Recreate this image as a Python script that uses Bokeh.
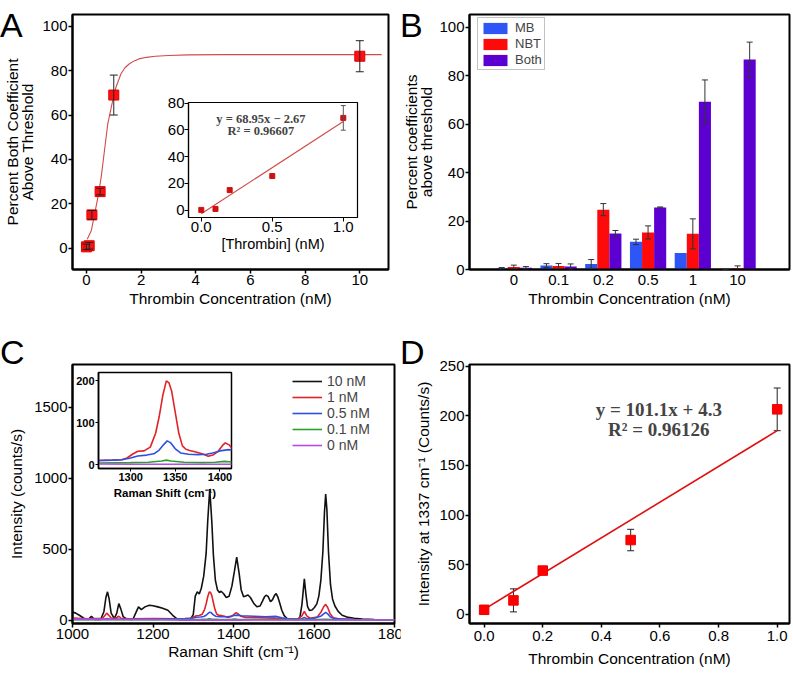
from bokeh.plotting import figure
from bokeh.models import (ColumnDataSource, Whisker, TeeHead, FixedTicker, Label,
                          Legend, LegendItem, GridBox, Range1d, PrintfTickFormatter, Div)
from bokeh.embed import file_html
from bokeh.resources import INLINE

FONT = "Liberation Sans"
SERIF = "Liberation Serif"

# ---------------- Panel A data ----------------
a_conc = [0, 0.1, 0.2, 0.5, 1, 10]
a_both = [0.6, 1.1, 15.0, 25.5, 69.0, 86.5]
a_err = [1.2, 1.5, 2.0, 1.5, 9.0, 7.0]
a_fit_x = [0.03, 0.18, 0.30, 0.42, 0.54, 0.66, 0.78, 0.96, 1.08, 1.26, 1.40, 1.56, 1.75, 1.92, 2.2, 2.52, 3.0, 3.72, 5.0, 7.0, 9.0, 10.8]
a_fit_y = [4.0, 8.0, 15.5, 23.0, 32.0, 44.0, 56.0, 66.5, 72.5, 78.5, 81.2, 83.0, 84.4, 85.3, 86.0, 86.5, 86.8, 87.1, 87.2, 87.2, 87.2, 87.2]
ai_conc = [0, 0.1, 0.2, 0.5, 1.0]
ai_pct = [0.2, 0.9, 15.0, 25.5, 69.0]
ai_err = [0.0, 0.0, 0.0, 0.0, 9.2]
ai_fit_x = [0.0, 1.0]
ai_fit_y = [-2.67, 66.28]

# ---------------- Panel B data ----------------
b_labels = ["0", "0.1", "0.2", "0.5", "1", "10"]
b_mb = [0.5, 1.6, 2.3, 11.4, 6.8, 0.1]
b_mb_err = [0.3, 0.8, 1.8, 1.1, 0.0, 0.1]
b_nbt = [1.0, 1.4, 24.7, 15.3, 14.7, 0.5]
b_nbt_err = [0.8, 1.1, 2.5, 2.7, 6.2, 1.0]
b_both = [0.7, 1.2, 14.9, 25.6, 69.2, 86.6]
b_both_err = [0.5, 1.1, 1.2, 0.2, 9.0, 7.2]

# ---------------- Panel C data (Raman shift, counts/s) ----------------
spec_10 = [(1000, 58), (1008, 50), (1017, 35), (1029, 12), (1039, 5), (1047, 28), (1055, 5), (1070, 5),
           (1078, 60), (1083, 160), (1087, 200), (1091, 150), (1096, 50), (1104, 12), (1110, 50), (1115, 117),
           (1120, 80), (1126, 25), (1135, 8), (1150, 5), (1157, 50), (1164, 94), (1171, 75), (1180, 94),
           (1191, 106), (1200, 102), (1212, 94), (1224, 84), (1237, 70), (1249, 35), (1262, 5), (1275, 0),
           (1292, 2), (1300, 40), (1305, 170), (1310, 200), (1315, 185), (1320, 225), (1326, 310), (1332, 470),
           (1336, 700), (1341, 923), (1346, 700), (1350, 460), (1355, 280), (1360, 215), (1365, 195), (1369, 204),
           (1375, 188), (1382, 160), (1389, 168), (1396, 240), (1402, 340), (1408, 444), (1414, 330), (1419, 215),
           (1425, 165), (1430, 170), (1436, 178), (1442, 160), (1450, 120), (1458, 95), (1466, 100), (1472, 135),
           (1477, 165), (1481, 176), (1486, 168), (1492, 130), (1497, 145), (1502, 175), (1506, 188), (1510, 165),
           (1515, 120), (1520, 70), (1526, 32), (1533, 12), (1545, 5), (1558, 5), (1565, 20), (1570, 110),
           (1573, 200), (1576, 292), (1580, 180), (1584, 95), (1589, 68), (1595, 72), (1601, 90), (1607, 115),
           (1612, 170), (1617, 280), (1622, 480), (1626, 760), (1629, 888), (1632, 780), (1636, 480), (1641, 250),
           (1646, 150), (1652, 100), (1660, 62), (1670, 35), (1685, 20), (1700, 14), (1720, 8), (1750, 5),
           (1780, 3), (1800, 2)]
spec_1 = [(1000, 15), (1040, 10), (1075, 14), (1081, 35), (1085, 50), (1090, 35), (1096, 15), (1108, 14),
          (1115, 28), (1121, 14), (1140, 10), (1200, 12), (1264, 10), (1280, 11), (1290, 12), (1296, 16),
          (1302, 25), (1308, 32), (1315, 33), (1322, 42), (1328, 75), (1332, 115), (1336, 165), (1340, 200),
          (1343, 195), (1346, 175), (1350, 125), (1354, 75), (1358, 45), (1362, 37), (1366, 34), (1372, 31),
          (1380, 26), (1387, 20), (1393, 24), (1398, 32), (1403, 46), (1406, 52), (1410, 48), (1418, 28),
          (1430, 20), (1460, 18), (1500, 15), (1530, 9), (1560, 8), (1570, 30), (1576, 62), (1582, 30),
          (1590, 14), (1608, 22), (1618, 60), (1624, 95), (1629, 112), (1634, 90), (1640, 45), (1648, 18),
          (1665, 8), (1700, 5), (1800, 3)]
spec_05 = [(1000, 6), (1080, 7), (1086, 12), (1092, 7), (1200, 6), (1264, 10), (1280, 11), (1290, 12),
           (1300, 16), (1308, 21), (1318, 23), (1326, 26), (1332, 35), (1337, 48), (1341, 57), (1345, 52),
           (1350, 38), (1356, 28), (1365, 25), (1375, 24), (1385, 25), (1392, 28), (1400, 33), (1410, 36),
           (1420, 32), (1450, 28), (1480, 25), (1505, 27), (1520, 18), (1540, 8), (1570, 10), (1576, 20),
           (1582, 10), (1600, 14), (1618, 30), (1624, 45), (1629, 55), (1634, 45), (1640, 25), (1650, 12),
           (1700, 5), (1800, 3)]
spec_01 = [(1000, 4), (1100, 4), (1200, 4), (1264, 4), (1300, 5), (1320, 6), (1335, 9), (1340, 11),
           (1345, 9), (1360, 6), (1380, 5), (1395, 6), (1405, 8), (1410, 7), (1450, 5), (1500, 4),
           (1600, 4), (1629, 7), (1650, 4), (1800, 3)]
spec_0 = [(1000, 8), (1100, 6), (1200, 5), (1264, 2), (1300, 1), (1350, 1), (1410, 1), (1500, 2),
          (1600, 2), (1700, 2), (1800, 2)]
c_series = [("10 nM", spec_10, "#111111"), ("1 nM", spec_1, "#e02424"), ("0.5 nM", spec_05, "#2f4fe0"),
            ("0.1 nM", spec_01, "#2ca02c"), ("0 nM", spec_0, "#b64be6")]
c_xticks = [1000, 1200, 1400, 1600, 1800]

# ---------------- Panel D data ----------------
d_conc = [0, 0.1, 0.2, 0.5, 1.0]
d_int = [4.5, 14.0, 44.0, 74.8, 206.5]
d_err = [3.0, 11.6, 2.5, 10.8, 21.5]
d_fit_x = [0.0, 1.0]
d_fit_y = [5.0, 185.0]


def make_fig(w, h, xr, yr, borders, outline=2.0):
    l, r, t, b = borders
    p = figure(width=w, height=h, x_range=Range1d(*xr), y_range=Range1d(*yr),
               output_backend="svg", toolbar_location=None, title=None,
               min_border_left=l, min_border_right=r, min_border_top=t, min_border_bottom=b)
    p.xgrid.visible = False
    p.ygrid.visible = False
    p.outline_line_color = "black"
    p.outline_line_width = outline
    p.background_fill_color = "white"
    p.border_fill_color = "white"
    return p


def style_axes(p, tick_px="15px", label_px="15.5px", tick_len=4, lw=2.0, bold=False):
    for ax in p.axis:
        ax.axis_line_color = "black"
        ax.axis_line_width = lw
        ax.major_tick_line_color = "black"
        ax.major_tick_line_width = 1.5 if lw > 1.5 else 1
        ax.major_tick_in = 0
        ax.major_tick_out = tick_len
        ax.minor_tick_line_color = None
        ax.major_label_text_font = FONT
        ax.major_label_text_font_size = tick_px
        ax.major_label_text_color = "black"
        ax.major_label_standoff = 1
        ax.major_label_text_font_style = "bold" if bold else "normal"
        ax.axis_label_text_font = FONT
        ax.axis_label_text_font_size = label_px
        ax.axis_label_text_font_style = "bold" if bold else "normal"
        ax.axis_label_text_color = "black"
        ax.axis_label_standoff = 2
        ax.axis_label_text_line_height = 0.9


def add_err(p, xs, ys, es, head=7, color="#222222", level="annotation"):
    keep = [i for i, e in enumerate(es) if e > 0]
    src = ColumnDataSource(dict(x=[xs[i] for i in keep],
                                lo=[ys[i] - es[i] for i in keep],
                                hi=[ys[i] + es[i] for i in keep]))
    w = Whisker(source=src, base="x", lower="lo", upper="hi", line_color=color, line_width=1,
                level=level,
                upper_head=TeeHead(size=head, line_color=color, line_width=1),
                lower_head=TeeHead(size=head, line_color=color, line_width=1))
    p.add_layout(w)


def letter(txt, top):
    return Div(text=txt, width=32, height=40, margin=(top, 0, 0, 0),
               styles={"font-family": FONT, "font-size": "34px", "line-height": "34px",
                       "color": "black", "background": "transparent"})


# ================= Panel A =================
pA = make_fig(400, 330, (-0.51, 11.05), (-9.6, 105.3), (70, 12, 14, 61))
pA.line(a_fit_x, a_fit_y, line_color="#d24a4a", line_width=1.1)
pA.scatter(a_conc, a_both, marker="square", size=10, fill_color="#ff1010", line_color="#e00000")
add_err(pA, a_conc, a_both, a_err, head=8)
pA.xaxis.ticker = FixedTicker(ticks=[0, 2, 4, 6, 8, 10])
pA.yaxis.ticker = FixedTicker(ticks=[0, 20, 40, 60, 80, 100])
pA.xaxis.axis_label = "Thrombin Concentration (nM)"
pA.yaxis.axis_label = "Percent Both Coefficient\nAbove Threshold"
style_axes(pA)
pA.yaxis.axis_label_standoff = 3

# inset A
pAi = make_fig(202, 164, (-0.09, 1.1), (-5.5, 80.5), (28, 5, 7, 42), outline=1.2)
pAi.border_fill_alpha = 0
pAi.line(ai_fit_x, ai_fit_y, line_color="#d24a4a", line_width=1.1)
pAi.scatter(ai_conc, ai_pct, marker="square", size=5, fill_color="#cc1111", line_color="#cc1111")
add_err(pAi, ai_conc, ai_pct, ai_err, head=5, color="#555555")
pAi.xaxis.ticker = FixedTicker(ticks=[0, 0.5, 1.0])
pAi.xaxis.formatter = PrintfTickFormatter(format="%.1f")
pAi.yaxis.ticker = FixedTicker(ticks=[0, 20, 40, 60, 80])
pAi.xaxis.axis_label = "[Thrombin] (nM)"
style_axes(pAi, tick_px="15px", label_px="14.5px", tick_len=4, lw=1.2)
for ax in pAi.axis:
    ax.major_label_standoff = 0
    ax.axis_label_standoff = 1
pAi.add_layout(Label(x=0.42, y=68.2, text="y = 68.95x \u2212 2.67", text_font=SERIF,
                     text_font_style="bold", text_font_size="12.5px",
                     text_align="center", text_baseline="middle"))
pAi.add_layout(Label(x=0.42, y=59.5, text="R\u00b2 = 0.96607", text_font=SERIF,
                     text_font_style="bold", text_font_size="12.5px",
                     text_align="center", text_baseline="middle"))

# ================= Panel B =================
pB = make_fig(393, 330, (-0.99, 6.16), (0, 105.2), (65, 4, 14, 59))
idx = list(range(len(b_labels)))
off, bw = 0.27, 0.27
mb_x = [i - off for i in idx]
nbt_x = [i for i in idx]
both_x = [i + off for i in idx]
r_mb = pB.vbar(x=mb_x, top=b_mb, width=bw, fill_color="#2e55f5", line_color=None)
r_nbt = pB.vbar(x=nbt_x, top=b_nbt, width=bw, fill_color="#ff0a0a", line_color=None)
r_both = pB.vbar(x=both_x, top=b_both, width=bw, fill_color="#5c00d2", line_color=None)
add_err(pB, mb_x, b_mb, b_mb_err, head=6, color="#333333")
add_err(pB, nbt_x, b_nbt, b_nbt_err, head=6, color="#333333")
add_err(pB, both_x, b_both, b_both_err, head=6, color="#333333")
pB.xaxis.ticker = FixedTicker(ticks=idx)
pB.xaxis.major_label_overrides = {i: lab for i, lab in zip(idx, b_labels)}
pB.yaxis.ticker = FixedTicker(ticks=[0, 20, 40, 60, 80, 100])
pB.xaxis.axis_label = "Thrombin Concentration (nM)"
pB.yaxis.axis_label = "Percent coefficients\nabove threshold"
style_axes(pB)
pB.yaxis.axis_label_standoff = 1
pB.xaxis.major_tick_out = 0
pB.xaxis.major_label_standoff = 5
legB = Legend(items=[LegendItem(label="MB", renderers=[r_mb]),
                     LegendItem(label="NBT", renderers=[r_nbt]),
                     LegendItem(label="Both", renderers=[r_both])],
              location=(8, 199), glyph_width=30, glyph_height=14, label_height=14,
              spacing=1, padding=2, margin=0, label_standoff=5,
              label_text_font=FONT, label_text_font_size="13px",
              border_line_color="#888888", border_line_width=1, background_fill_color="white")
pB.add_layout(legB)

# ================= Panel C =================
# the figure reaches 20px under panel D so that its last tick label is cut by D's edge
pC = make_fig(420, 346, (1000, 1800), (-23, 1800), (72, 26, 33, 53))
c_items = []
for name, spec, col in c_series:
    xs = [s[0] for s in spec]
    ys = [s[1] for s in spec]
    r = pC.line(xs, ys, line_color=col, line_width=1.6)
    c_items.append(LegendItem(label=name, renderers=[r]))
pC.xaxis.ticker = FixedTicker(ticks=c_xticks)
pC.yaxis.ticker = FixedTicker(ticks=[0, 500, 1000, 1500])
pC.xaxis.axis_label = "Raman Shift (cm\u207b\u00b9)"
pC.yaxis.axis_label = "Intensity (counts/s)"
style_axes(pC)
pC.xaxis.major_label_standoff = 1
pC.xaxis.axis_label_standoff = 1
pC.yaxis.axis_label_standoff = 6
legC = Legend(items=c_items, location=(220, 170), glyph_width=30, glyph_height=16, label_height=16,
              spacing=0, padding=5, margin=0, label_standoff=5,
              label_text_font=FONT, label_text_font_size="14px",
              border_line_color=None, background_fill_alpha=0)
pC.add_layout(legC)

# inset C
pCi = make_fig(176, 139, (1264, 1413), (-9, 220), (38, 5, 6, 37), outline=1.5)
pCi.border_fill_alpha = 0
for name, spec, col in c_series[1:]:
    xs = [s[0] for s in spec]
    ys = [s[1] for s in spec]
    pCi.line(xs, ys, line_color=col, line_width=1.6)
pCi.xaxis.ticker = FixedTicker(ticks=[1300, 1350, 1400])
pCi.yaxis.ticker = FixedTicker(ticks=[0, 100, 200])
pCi.xaxis.axis_label = "Raman Shift (cm\u207b\u00b9)"
style_axes(pCi, tick_px="11px", label_px="11.5px", tick_len=3, lw=1.5, bold=True)
for ax in pCi.axis:
    ax.major_label_standoff = 1
    ax.axis_label_standoff = 3

# ================= Panel D =================
pD = make_fig(393, 346, (-0.05, 1.042), (-9.3, 251.7), (67, 4, 34, 49))
pD.line(d_fit_x, d_fit_y, line_color="#e01010", line_width=1.6)
pD.scatter(d_conc, d_int, marker="square", size=9.5, fill_color="#ff0000", line_color="#ee0000")
add_err(pD, d_conc, d_int, d_err, head=7, color="#222222", level="underlay")
pD.xaxis.ticker = FixedTicker(ticks=[0, 0.2, 0.4, 0.6, 0.8, 1.0])
pD.xaxis.formatter = PrintfTickFormatter(format="%.1f")
pD.yaxis.ticker = FixedTicker(ticks=[0, 50, 100, 150, 200, 250])
pD.xaxis.axis_label = "Thrombin Concentration (nM)"
pD.yaxis.axis_label = "Intensity at 1337 cm\u207b\u00b9 (Counts/s)"
style_axes(pD)
pD.xaxis.major_label_standoff = 3
pD.xaxis.axis_label_standoff = 6
pD.yaxis.axis_label_standoff = 4
pD.add_layout(Label(x=0.596, y=206, text="y = 101.1x + 4.3", text_font=SERIF,
                    text_font_style="bold", text_font_size="19px",
                    text_align="center", text_baseline="middle"))
pD.add_layout(Label(x=0.596, y=186, text="R\u00b2 = 0.96126", text_font=SERIF,
                    text_font_style="bold", text_font_size="19px",
                    text_align="center", text_baseline="middle"))

row_px = [95, 164, 71, 36, 139, 171]
col_px = [60, 100, 76, 126, 38, 20, 373]
grid = GridBox(children=[(pA, 0, 0, 3, 5), (pB, 0, 5, 3, 2),
                         (pC, 3, 0, 3, 6), (pD, 3, 5, 3, 2),
                         (pAi, 1, 2, 1, 2), (pCi, 4, 1, 1, 2),
                         (letter("A", 8), 0, 0, 1, 1), (letter("B", 8), 0, 5, 1, 2),
                         (letter("C", 5), 3, 0, 1, 1), (letter("D", 5), 3, 5, 1, 2)],
               rows=[f"{v}px" for v in row_px], cols=[f"{v}px" for v in col_px], spacing=0)

open("out.html", "w").write(file_html(grid, INLINE))
